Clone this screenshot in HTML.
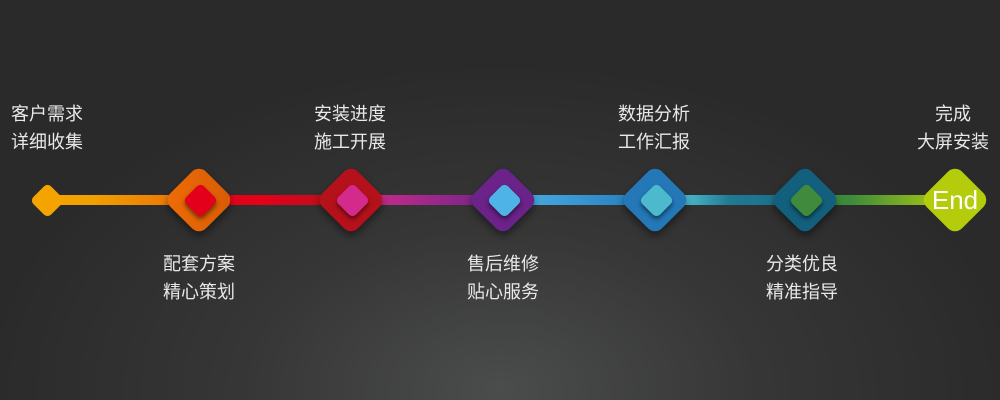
<!DOCTYPE html>
<html><head><meta charset="utf-8"><style>
html,body{margin:0;padding:0}
body{width:1000px;height:400px;overflow:hidden;position:relative;
background:radial-gradient(ellipse 520px 330px at 500px 390px,#4b4c4c 0%,#363636 50%,#2a2a2a 100%),#2a2a2a;
font-family:"Liberation Sans","Noto Sans CJK SC",sans-serif;}
.seg{position:absolute;top:195px;height:10px}
.d{position:absolute;transform:rotate(45deg)}
.big{width:50px;height:50px;top:175px;border-radius:10px;box-shadow:3px 3px 8px rgba(0,0,0,.45)}
.sm{width:25px;height:25px;top:187.5px;border-radius:5px;box-shadow:2px 2px 4px rgba(0,0,0,.5)}
.t{position:absolute;width:120px;text-align:center;color:#e8e8e8;font-size:18px;line-height:28px}
</style></head><body>
<div class="seg" style="left:47px;width:152px;background:linear-gradient(90deg,#f5a300,#f0a000 30%,#ec6a07)"></div>
<div class="seg" style="left:199px;width:152px;background:linear-gradient(90deg,#e3001b,#e3001b 40%,#b5121b)"></div>
<div class="seg" style="left:351px;width:152px;background:linear-gradient(90deg,#d62c8a,#6a2489)"></div>
<div class="seg" style="left:503px;width:152px;background:linear-gradient(90deg,#4eb3e6,#2178b9)"></div>
<div class="seg" style="left:655px;width:150px;background:linear-gradient(90deg,#4bbacc,#4bbacc 20%,#1f7a93 50%,#1a6b88)"></div>
<div class="seg" style="left:805px;width:150px;background:linear-gradient(90deg,#3c8b3a,#3c8b3a 30%,#b5cc10)"></div>

<div class="d sm" style="left:34.5px;background:#f5a300;box-shadow:none"></div>
<div class="d big" style="left:174px;background:linear-gradient(45deg,#ee6d07,#d85a05)"></div>
<div class="d big" style="left:326px;background:#b5111b"></div>
<div class="d big" style="left:478px;background:#6b2289"></div>
<div class="d big" style="left:630px;background:#2478b8"></div>
<div class="d big" style="left:780px;background:#13607e"></div>
<div class="d big" style="left:930px;background:#b5cc0c;box-shadow:none"></div>

<div class="d sm" style="left:187.5px;background:#e3001b"></div>
<div class="d sm" style="left:339.5px;background:#d42a8c"></div>
<div class="d sm" style="left:491.5px;background:#4eb3e6"></div>
<div class="d sm" style="left:643.5px;background:#4cb9cc"></div>
<div class="d sm" style="left:793.5px;background:#3f8a3c"></div>
<div style="position:absolute;left:925px;top:185px;width:60px;text-align:center;color:#fff;font-size:26px;line-height:30px">End</div>

<div class="t" style="left:-13px;top:100px">客户需求<br>详细收集</div>
<div class="t" style="left:290px;top:100px">安装进度<br>施工开展</div>
<div class="t" style="left:594px;top:100px">数据分析<br>工作汇报</div>
<div class="t" style="left:893px;top:100px">完成<br>大屏安装</div>
<div class="t" style="left:139px;top:250px">配套方案<br>精心策划</div>
<div class="t" style="left:443px;top:250px">售后维修<br>贴心服务</div>
<div class="t" style="left:742px;top:250px">分类优良<br>精准指导</div>
</body></html>
